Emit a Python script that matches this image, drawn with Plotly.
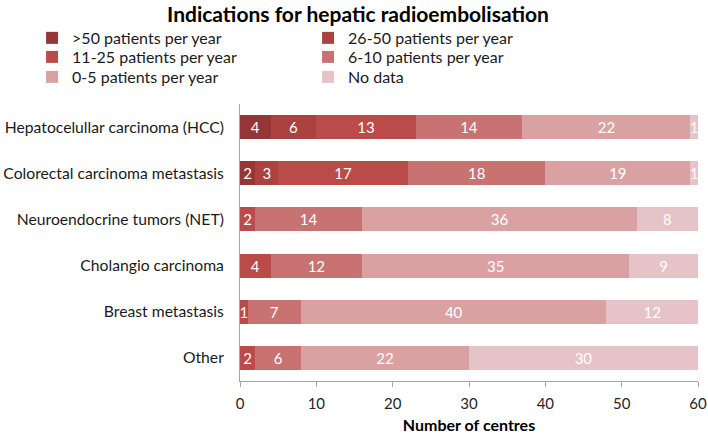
import plotly.graph_objects as go

categories = [
    "Hepatocelullar carcinoma (HCC)",
    "Colorectal carcinoma metastasis",
    "Neuroendocrine tumors (NET)",
    "Cholangio carcinoma",
    "Breast metastasis",
    "Other",
]
series_names = [
    ">50 patients per year",
    "26-50 patients per year",
    "11-25 patients per year",
    "6-10 patients per year",
    "0-5 patients per year",
    "No data",
]
gt50 = [4, 2, 0, 0, 0, 0]
p26_50 = [6, 3, 0, 0, 0, 0]
p11_25 = [13, 17, 2, 4, 1, 2]
p6_10 = [14, 18, 14, 12, 7, 6]
p0_5 = [22, 19, 36, 35, 40, 22]
no_data = [1, 1, 8, 9, 12, 30]
x_ticks = [0, 10, 20, 30, 40, 50, 60]

series_values = [gt50, p26_50, p11_25, p6_10, p0_5, no_data]
colors = ["#953636", "#A94241", "#BB4B48", "#C87272", "#D9A1A2", "#E6C3C6"]
legend_ids = ["legend", "legend", "legend2", "legend2", "legend3", "legend3"]

FONT = "Lato"

fig = go.Figure()
for name, vals, col, lg in zip(series_names, series_values, colors, legend_ids):
    fig.add_trace(go.Bar(
        name=name,
        y=categories,
        x=vals,
        orientation="h",
        legend=lg,
        marker=dict(color=col, line=dict(width=0)),
        text=[str(v) if v else "" for v in vals],
        textposition="inside",
        insidetextanchor="middle",
        textangle=0,
        constraintext="none",
        textfont=dict(family=FONT, size=15, color="white"),
        hoverinfo="x+name",
    ))

def leg(ypaper):
    return dict(
        orientation="h",
        x=-0.454, xanchor="left",
        y=ypaper, yanchor="middle",
        entrywidth=231,
        font=dict(family=FONT, size=16, color="#1a1a1a"),
        traceorder="normal",
        bgcolor="rgba(0,0,0,0)",
    )

fig.update_layout(
    width=708,
    height=435,
    barmode="stack",
    bargap=0.48,
    plot_bgcolor="white",
    paper_bgcolor="white",
    margin=dict(l=240, r=10, t=104, b=54, autoexpand=False),
    font=dict(family=FONT, color="#1a1a1a"),
    showlegend=True,
    title=dict(
        text="<b>Indications for hepatic radioembolisation</b>",
        x=0.5056, xref="container", xanchor="center",
        y=0.966, yref="container", yanchor="middle",
        font=dict(family=FONT, size=21, color="#000000"),
    ),
    legend=leg(1.2384),
    legend2=leg(1.1697),
    legend3=leg(1.0975),
    xaxis=dict(
        range=[0, 60],
        tickvals=x_ticks,
        showgrid=False,
        zeroline=False,
        showline=True,
        automargin=False,
        linecolor="#a6a6a6",
        linewidth=1,
        ticks="outside",
        ticklen=5,
        tickcolor="#a6a6a6",
        ticklabelstandoff=4,
        tickfont=dict(family=FONT, size=15, color="#262626"),
        title=dict(text="<b>Number of centres</b>",
                   font=dict(family=FONT, size=16, color="#000000"),
                   standoff=8),
    ),
    yaxis=dict(
        categoryorder="array",
        categoryarray=categories,
        autorange="reversed",
        showgrid=False,
        zeroline=False,
        showline=True,
        automargin=False,
        linecolor="#a6a6a6",
        linewidth=1,
        ticks="",
        ticklabelstandoff=12,
        tickfont=dict(family=FONT, size=15.7, color="#1a1a1a"),
    ),
)

fig.write_html(
    "out.html",
    config={"displayModeBar": False, "staticPlot": True},
    post_script="document.body.style.margin='0';document.body.style.overflow='hidden';",
)
